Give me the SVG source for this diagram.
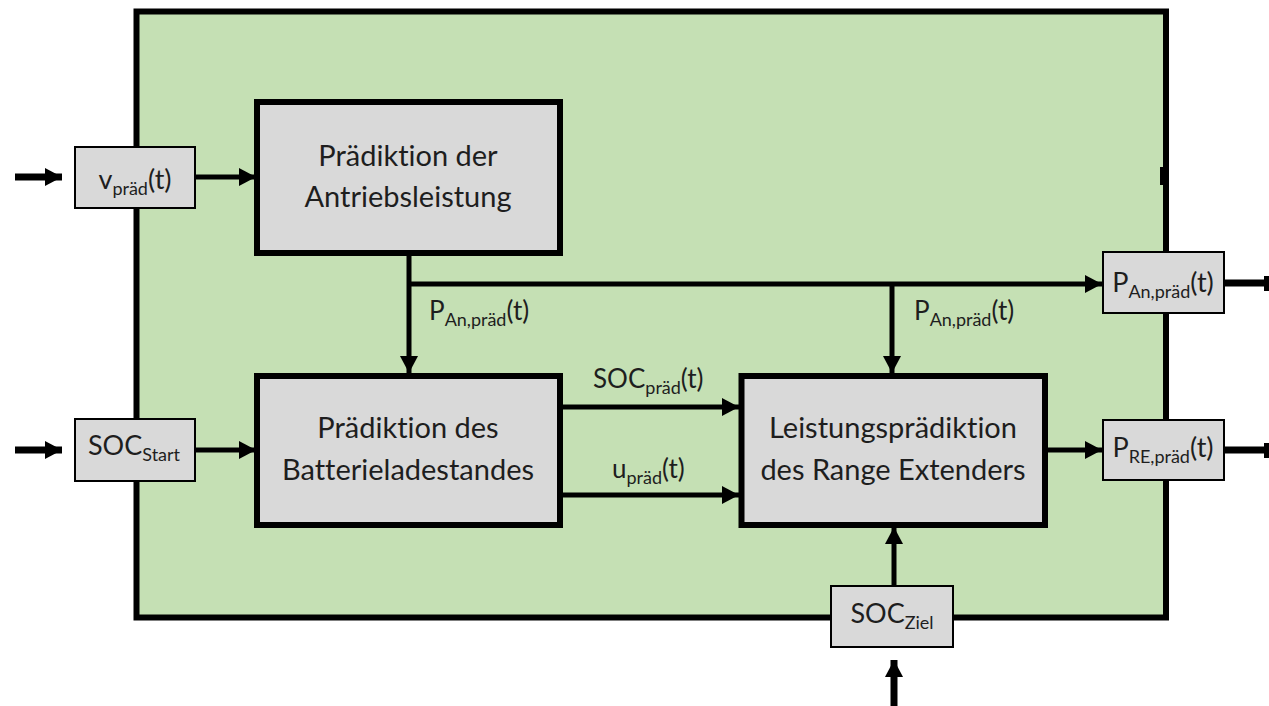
<svg xmlns="http://www.w3.org/2000/svg" width="1269" height="706" viewBox="0 0 1269 706">
<style>
.frame{fill:#c5e0b4;stroke:#000;stroke-width:6}
.block{fill:#d9d9d9;stroke:#000;stroke-width:6}
.io{fill:#d9d9d9;stroke:#000;stroke-width:2}
.ln{stroke:#000;stroke-width:5;fill:none}
.lnT{stroke:#000;stroke-width:7;fill:none}
text{font-family:Lato,"Liberation Sans",sans-serif;fill:#1e1e1e;font-variant-ligatures:none;font-feature-settings:"liga" 0}
.bt{font-size:29px;text-anchor:middle}
.lb{font-size:26px}
.io-t{font-size:27px;text-anchor:middle}
.sub{font-size:18px}
</style>
<defs>
<marker id="ah" markerUnits="userSpaceOnUse" markerWidth="20" markerHeight="20" refX="17" refY="10" orient="auto">
<path d="M0,1 L17,10 L0,19 Z" fill="#000"/>
</marker>
</defs>
<rect class="frame" x="136.5" y="11.5" width="1029.5" height="606"/>
<rect x="1160" y="167" width="7" height="18" fill="#000"/>
<g id="connectors">
<line class="lnT" x1="15" y1="177" x2="62" y2="177" marker-end="url(#ah)"/>
<line class="ln" x1="195" y1="177" x2="256" y2="177" marker-end="url(#ah)"/>
<line class="lnT" x1="15" y1="450" x2="62" y2="450" marker-end="url(#ah)"/>
<line class="ln" x1="195" y1="450" x2="256" y2="450" marker-end="url(#ah)"/>
<line class="ln" x1="409" y1="253" x2="409" y2="373" marker-end="url(#ah)"/>
<line class="ln" x1="409" y1="284" x2="1102" y2="284" marker-end="url(#ah)"/>
<line class="ln" x1="892" y1="284" x2="892" y2="373" marker-end="url(#ah)"/>
<line class="ln" x1="560" y1="407" x2="739" y2="407" marker-end="url(#ah)"/>
<line class="ln" x1="560" y1="495" x2="739" y2="495" marker-end="url(#ah)"/>
<line class="ln" x1="1045" y1="450" x2="1102" y2="450" marker-end="url(#ah)"/>
<line class="ln" x1="894" y1="586" x2="894" y2="527" marker-end="url(#ah)"/>
<line class="lnT" x1="894" y1="706" x2="894" y2="660" marker-end="url(#ah)"/>
<line class="lnT" x1="1224" y1="283" x2="1265" y2="283"/>
<rect x="1264" y="276" width="5" height="15" fill="#000"/>
<line class="lnT" x1="1224" y1="450" x2="1265" y2="450"/>
<rect x="1264" y="443" width="5" height="15" fill="#000"/>
</g>
<g id="label-pan1"><text class="lb" x="429" y="320">P<tspan class="sub" dy="6">An,präd</tspan><tspan dy="-6">(t)</tspan></text></g>
<g id="label-pan2"><text class="lb" x="914" y="320">P<tspan class="sub" dy="6">An,präd</tspan><tspan dy="-6">(t)</tspan></text></g>
<g id="label-socpraed"><text class="lb" x="593" y="388">SOC<tspan class="sub" dy="6">präd</tspan><tspan dy="-6">(t)</tspan></text></g>
<g id="label-upraed"><text class="lb" x="612" y="478">u<tspan class="sub" dy="6">präd</tspan><tspan dy="-6">(t)</tspan></text></g>
<g id="block-antrieb">
<rect class="block" x="257" y="102" width="303" height="151"/>
<text class="bt" x="408" y="166">Prädiktion der</text>
<text class="bt" x="408" y="207">Antriebsleistung</text>
</g>
<g id="block-batterie">
<rect class="block" x="257" y="376" width="303" height="149"/>
<text class="bt" x="408" y="438">Prädiktion des</text>
<text class="bt" x="408" y="480">Batterieladestandes</text>
</g>
<g id="block-range">
<rect class="block" x="741.5" y="376" width="303.5" height="149"/>
<text class="bt" x="893" y="438">Leistungsprädiktion</text>
<text class="bt" x="893" y="480">des Range Extenders</text>
</g>
<g id="in-v">
<rect class="io" x="75" y="147" width="120" height="61"/>
<text class="io-t" x="135" y="189">v<tspan class="sub" dy="6">präd</tspan><tspan dy="-6">(t)</tspan></text>
</g>
<g id="in-socstart">
<rect class="io" x="75" y="419" width="120" height="62"/>
<text class="io-t" x="134" y="455">SOC<tspan class="sub" dy="6">Start</tspan></text>
</g>
<g id="out-pan">
<rect class="io" x="1103" y="252" width="121" height="61"/>
<text class="io-t" x="1163" y="292">P<tspan class="sub" dy="6">An,präd</tspan><tspan dy="-6">(t)</tspan></text>
</g>
<g id="out-pre">
<rect class="io" x="1103" y="420" width="121" height="60"/>
<text class="io-t" x="1163" y="457">P<tspan class="sub" dy="6">RE,präd</tspan><tspan dy="-6">(t)</tspan></text>
</g>
<g id="in-socziel">
<rect class="io" x="831" y="586" width="122" height="61"/>
<text class="io-t" x="892" y="623">SOC<tspan class="sub" dy="6">Ziel</tspan></text>
</g>
</svg>
